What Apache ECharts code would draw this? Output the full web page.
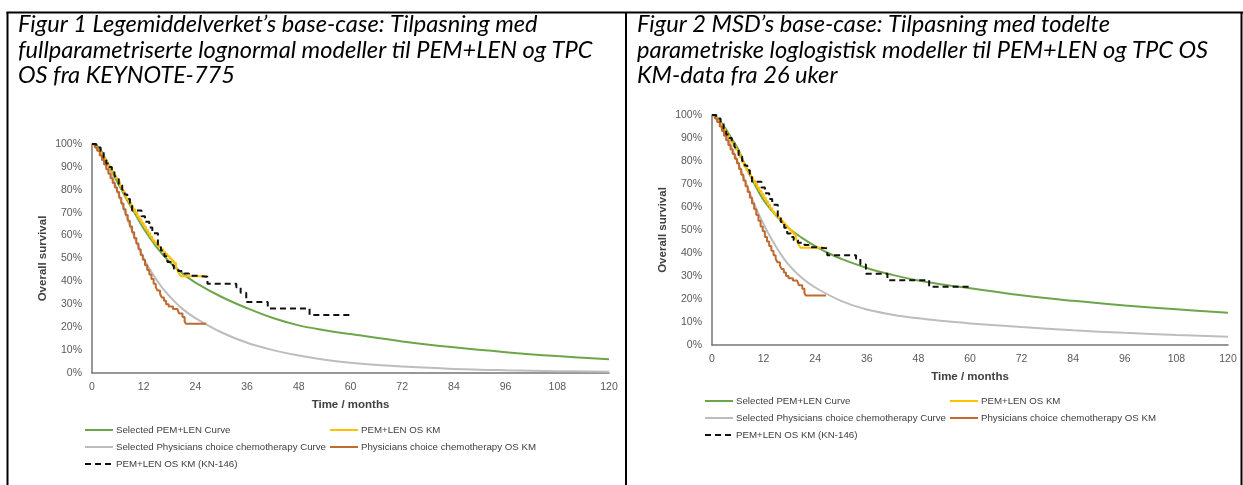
<!DOCTYPE html>
<html>
<head>
<meta charset="utf-8">
<script src="https://cdn.jsdelivr.net/npm/echarts@6/dist/echarts.min.js"></script>
<style>
  html, body { margin: 0; padding: 0; background: #ffffff; }
  #chart { width: 1243px; height: 485px; }
</style>
</head>
<body>
<div id="chart"></div>
<script>
// ---- Captions ----
const captionLeft = [
  'Figur 1 Legemiddelverket\u2019s base-case: Tilpasning med',
  'fullparametriserte lognormal modeller til PEM+LEN og TPC',
  'OS fra KEYNOTE-775'
];
const captionRight = [
  'Figur 2 MSD\u2019s base-case: Tilpasning med todelte',
  'parametriske loglogistisk modeller til PEM+LEN og TPC OS',
  'KM-data fra 26 uker'
];

// ---- Axis texts ----
const xAxisTitle = 'Time / months';
const yAxisTitle = 'Overall survival';

// ---- Series names ----
const nameFitPem = 'Selected PEM+LEN Curve';
const nameKmPem = 'PEM+LEN OS KM';
const nameFitTpc = 'Selected Physicians choice chemotherapy Curve';
const nameKmTpc = 'Physicians choice chemotherapy OS KM';
const nameKmKn146 = 'PEM+LEN OS KM (KN-146)';

// ---- Figur 1: lognormal fits [month, survival %] ----
const fig1PemFit = [
  [0,100],[1,99.5],[2,97.5],[3,94],[4,90.5],[5,86.5],[6,83],[8,76],[10,69.5],[12,63],
  [15,55],[18,48.5],[21,43.5],[24,39.5],[30,33.3],[36,28.3],[42,24],[48,20.8],[54,18.7],
  [60,17],[72,13.8],[84,11.2],[96,9.1],[108,7.4],[120,6]
];
const fig1TpcFit = [
  [0,100],[1,99],[2,97],[3,93.5],[4,89],[5,84],[6,79],[8,68.5],[10,58.5],[12,50],
  [14,43.5],[16,38],[18,33.5],[21,28],[24,24],[30,17.8],[36,13.2],[42,10],[48,7.6],
  [54,5.8],[60,4.5],[72,2.8],[84,1.8],[96,1.2],[108,0.8],[120,0.6]
];

// ---- Figur 2: piecewise loglogistic fits [month, survival %] ----
const fig2PemFit = [
  [0,100],[1,99],[2,97],[3,94.5],[4,91.5],[5,88.5],[6,85.5],[8,77],[10,69.5],[12,63],
  [15,56],[18,50.5],[21,46.5],[24,43],[27,40],[30,37.5],[36,33.5],[42,30.5],[48,28],
  [54,26.2],[60,24.7],[72,21.6],[84,19.2],[96,17.2],[108,15.5],[120,14]
];
const fig2TpcFit = [
  [0,100],[1,99],[2,96.5],[3,93],[4,88.5],[5,84],[6,79.5],[8,70],[10,60.5],[12,52.5],
  [14,45.5],[16,39.5],[18,34.5],[21,29],[24,25],[30,19.2],[36,15.4],[42,13.2],[48,11.6],
  [54,10.4],[60,9.4],[72,7.8],[84,6.4],[96,5.3],[108,4.4],[120,3.6]
];

// ---- Kaplan-Meier data (shared by both figures) [month, survival %] ----
const kmPem = [
  [0,100],[0.5,99],[1,98],[1.5,97],[2,95.5],[2.5,94],[3,92.5],[3.5,91],[4,89.5],[4.5,88],
  [5,86.5],[5.5,85],[6,83.5],[6.5,81.5],[7,79.5],[7.5,77.5],[8,76],[8.5,74.5],[9,73],
  [9.5,71.5],[10,70],[10.5,68.5],[11,67],[11.5,65.5],[12,64],[12.5,62.5],[13,61],
  [13.5,59.5],[14,58],[14.5,57],[15,56],[15.5,55],[16,54],[16.5,53],[17,52],[17.5,51],
  [18,50],[18.5,49],[19,48],[19.5,46.5],[19.8,45],[20.2,43.5],[20.6,42.3],[26.8,42.3]
];
const kmTpc = [
  [0,100],[0.7,98.5],[1.2,97],[1.8,95],[2.3,93],[2.8,91],[3.3,89],[3.8,87],[4.3,85],
  [4.8,83],[5.3,81],[5.8,79],[6.3,76.5],[6.8,74],[7.3,71.5],[7.8,69],[8.3,66.5],[8.8,64],
  [9.3,61.5],[9.8,59],[10.3,56.5],[10.8,54],[11.3,51.5],[11.8,49.5],[12.3,47],[12.8,45],
  [13.3,43],[13.8,41],[14.3,39],[14.8,37.5],[15.2,36],[15.8,34.5],[16.2,33],[16.7,31.5],
  [17.2,30],[17.8,29],[18.8,28],[19.8,27.5],[20.2,26],[21,24.5],[21.5,22.5],[21.8,21.5],
  [26.5,21.5]
];
const kmKn146 = [
  [0,100],[1,98.5],[2,96.5],[2.7,94],[3.3,91.5],[4,90],[4.6,88],[5.2,86.5],[5.6,85],
  [6.2,82],[7,80],[7.6,78],[8.2,76],[8.8,73],[9.3,71],[11.5,68.5],[12.3,66],[13.3,63.5],
  [14,61],[15.3,56],[16,53.5],[16.8,51],[17.5,48.5],[18.3,47],[19,45.5],[20,44.5],
  [21.5,43.5],[22.5,42.5],[24.5,42],[26.8,39],[33.5,37.5],[34.5,35],[35.8,31],
  [40.8,28.2],[50.5,25.3],[60,25.3]
];

// ---- Axis ticks ----
const monthMax = 120;
const monthStep = 12;
const survivalMax = 100;
const survivalStep = 10;

const colors = {
  pemFit: '#6FA54A',
  tpcFit: '#BDBDBD',
  pemKm: '#FFC000',
  tpcKm: '#BF6A30',
  kn146: '#111111'
};

const chart = echarts.init(document.getElementById('chart'));
const captionFont = 'italic 23px Lato';
const labelFont = '"Liberation Sans", Arial, sans-serif';

function panelAxes(gridIndex) {
  return {
    x: {
      type: 'value', gridIndex, min: 0, max: monthMax, interval: monthStep,
      name: xAxisTitle, nameLocation: 'middle', nameGap: 26,
      nameTextStyle: { fontFamily: labelFont, fontWeight: 'bold', fontSize: 11.5, color: '#404040' },
      axisLine: { show: true, lineStyle: { color: '#767676', width: 1.5 } },
      axisTick: { show: false },
      splitLine: { show: false },
      axisLabel: { margin: 9, fontFamily: labelFont, fontSize: 10.5, color: '#595959' }
    },
    y: {
      type: 'value', gridIndex, min: 0, max: survivalMax, interval: survivalStep,
      name: yAxisTitle, nameLocation: 'middle', nameGap: 43, nameRotate: 90,
      nameTextStyle: { fontFamily: labelFont, fontWeight: 'bold', fontSize: 11.5, color: '#404040' },
      axisLine: { show: true, lineStyle: { color: '#767676', width: 1.5 } },
      axisTick: { show: false },
      splitLine: { show: false },
      axisLabel: { margin: 10, fontFamily: labelFont, fontSize: 10.5, color: '#595959', formatter: '{value}%' }
    }
  };
}

function panelSeries(idx, pemFit, tpcFit) {
  const base = { type: 'line', xAxisIndex: idx, yAxisIndex: idx, symbol: 'none', animation: false };
  return [
    Object.assign({}, base, { name: nameFitPem, data: pemFit, smooth: 0.4,
      lineStyle: { color: colors.pemFit, width: 2 }, itemStyle: { color: colors.pemFit } }),
    Object.assign({}, base, { name: nameFitTpc, data: tpcFit, smooth: 0.4,
      lineStyle: { color: colors.tpcFit, width: 2 }, itemStyle: { color: colors.tpcFit } }),
    Object.assign({}, base, { name: nameKmPem, data: kmPem, step: 'end',
      lineStyle: { color: colors.pemKm, width: 2 }, itemStyle: { color: colors.pemKm } }),
    Object.assign({}, base, { name: nameKmTpc, data: kmTpc, step: 'end',
      lineStyle: { color: colors.tpcKm, width: 2 }, itemStyle: { color: colors.tpcKm } }),
    Object.assign({}, base, { name: nameKmKn146, data: kmKn146, step: 'end',
      lineStyle: { color: colors.kn146, width: 2, type: [6, 4] }, itemStyle: { color: colors.kn146 } })
  ];
}

function legendsAt(left1, left2, top) {
  const common = {
    orient: 'vertical', top, padding: 0, itemWidth: 28, itemHeight: 12, itemGap: 7,
    itemStyle: { opacity: 0 },
    textStyle: { fontFamily: labelFont, fontSize: 9.7, color: '#404040', padding: [0, 0, 0, -2] },
    selectedMode: false
  };
  return [
    Object.assign({}, common, { left: left1, data: [nameFitPem, nameFitTpc, nameKmKn146] }),
    Object.assign({}, common, { left: left2, data: [nameKmPem, nameKmTpc] })
  ];
}

function build() {
  const ctx = document.createElement('canvas').getContext('2d');
  ctx.font = captionFont;
  const sx = 473 / ctx.measureText(captionRight[0]).width;

  const graphics = [];
  // table borders
  const border = { stroke: '#000', lineWidth: 2 };
  graphics.push({ type: 'line', shape: { x1: 6.5, y1: 12.5, x2: 1243, y2: 12.5 }, style: border, silent: true });
  graphics.push({ type: 'line', shape: { x1: 7.5, y1: 12, x2: 7.5, y2: 485 }, style: border, silent: true });
  graphics.push({ type: 'line', shape: { x1: 626, y1: 12, x2: 626, y2: 485 }, style: border, silent: true });
  graphics.push({ type: 'line', shape: { x1: 1241.5, y1: 12, x2: 1241.5, y2: 485 }, style: border, silent: true });

  const lineYs = [25, 50.5, 76];
  captionLeft.forEach((t, i) => graphics.push({
    type: 'text', x: 18, y: lineYs[i], scaleX: sx, silent: true,
    style: { text: t, font: captionFont, fill: '#000', verticalAlign: 'middle' }
  }));
  captionRight.forEach((t, i) => graphics.push({
    type: 'text', x: 637, y: lineYs[i], scaleX: sx, silent: true,
    style: { text: t, font: captionFont, fill: '#000', verticalAlign: 'middle' }
  }));

  const a0 = panelAxes(0), a1 = panelAxes(1);
  chart.setOption({
    animation: false,
    backgroundColor: '#ffffff',
    grid: [
      { left: 92, top: 144, width: 517, height: 229 },
      { left: 712, top: 115, width: 516, height: 230 }
    ],
    xAxis: [a0.x, a1.x],
    yAxis: [a0.y, a1.y],
    legend: legendsAt(84, 329, 425).concat(legendsAt(704, 949, 396)),
    graphic: graphics,
    series: panelSeries(0, fig1PemFit, fig1TpcFit).concat(panelSeries(1, fig2PemFit, fig2TpcFit))
  });
}

if (document.fonts && document.fonts.load) {
  document.fonts.load(captionFont).then(build, build);
} else {
  build();
}
</script>
</body>
</html>
